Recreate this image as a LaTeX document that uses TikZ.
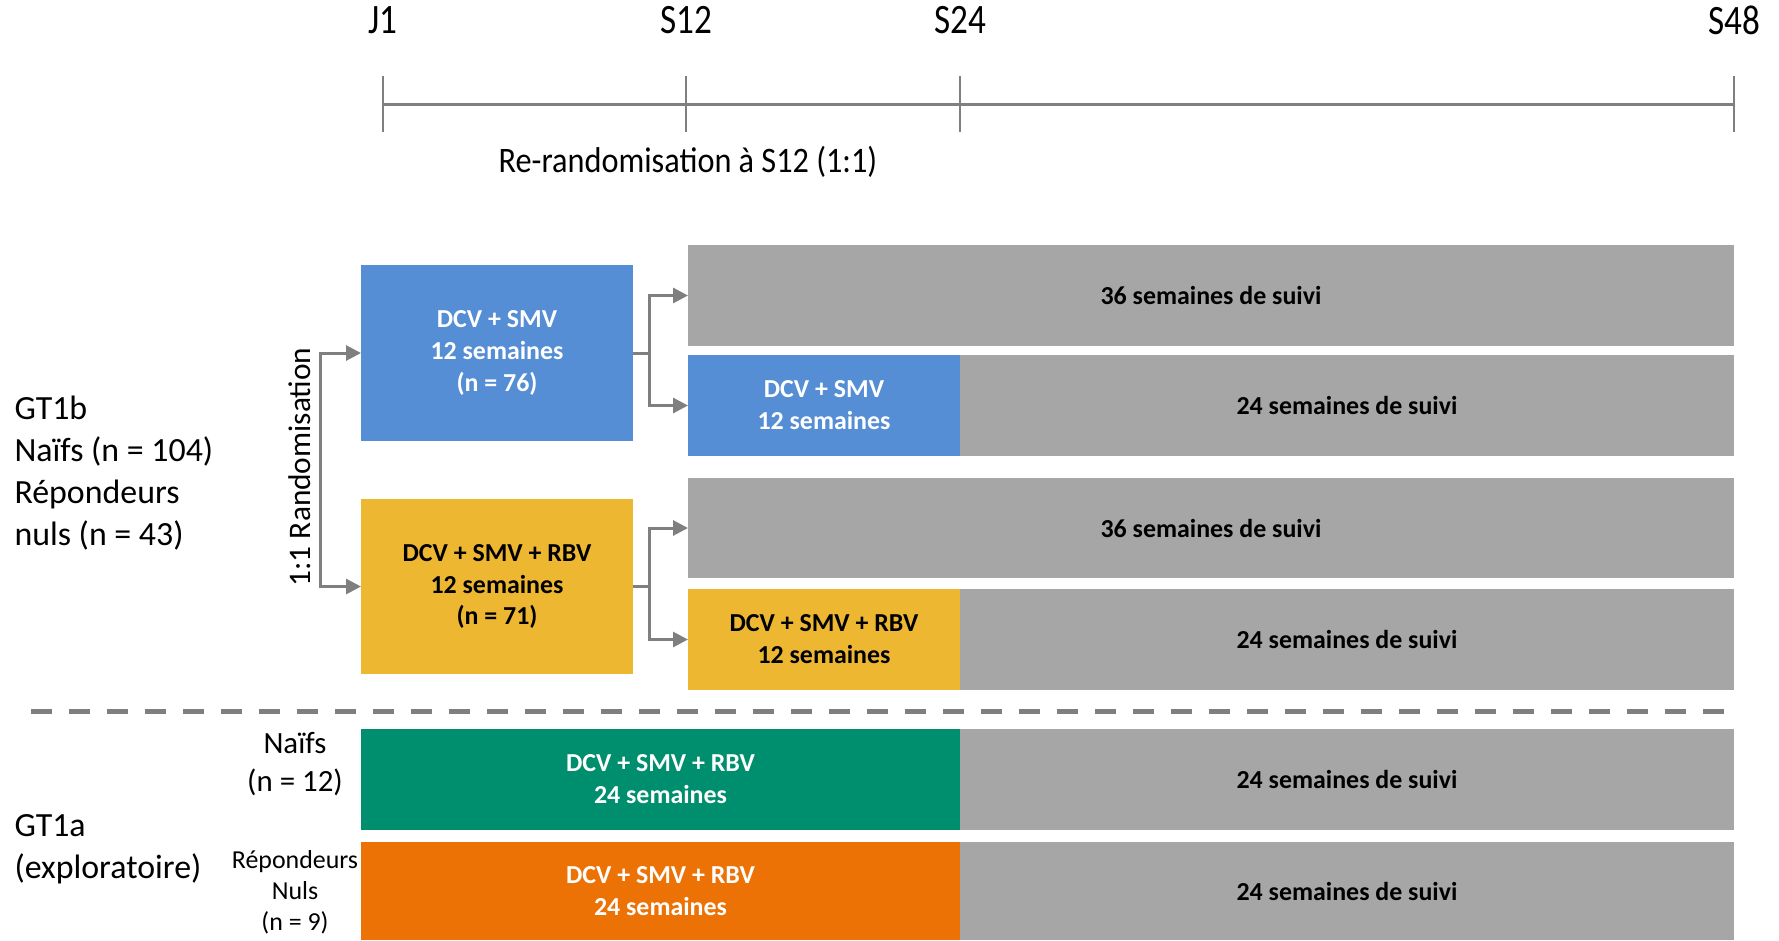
\documentclass[tikz,border=0pt]{standalone}
\usepackage{fontspec}
\setmainfont{Carlito}
\newfontfamily\condfont[FakeStretch=0.84]{Carlito}
\newfontfamily\semicondfont[FakeStretch=0.9]{Carlito}
\usetikzlibrary{positioning,arrows.meta}

\definecolor{dcvblue}{HTML}{558ED5}
\definecolor{rbvyellow}{HTML}{EDB732}
\definecolor{naifgreen}{HTML}{008F6E}
\definecolor{nulorange}{HTML}{EC7206}
\definecolor{suivigray}{HTML}{A6A6A6}
\definecolor{linegray}{HTML}{7F7F7F}

\tikzset{
  box/.style={anchor=north west, inner sep=0pt, outer sep=0pt, align=center, text=white,
    font=\bfseries\fontsize{26}{32}\selectfont},
  suivi/.style={box, fill=suivigray, text=black},
  arr/.style={draw=linegray, line width=3bp, -{Triangle[length=15bp,width=15bp]}},
  toplabel/.style={font=\condfont\fontsize{42}{48}\selectfont},
  grouplabel/.style={anchor=west, align=left, font=\fontsize{34}{42}\selectfont},
  sublabel/.style={align=center, font=\fontsize{31}{38}\selectfont},
}

\begin{document}
\begin{tikzpicture}[x=1bp, y=-1bp]
\useasboundingbox (0,0) rectangle (1779,940);

% timeline
\foreach \n/\x in {J1/383, S12/686, S24/960, S48/1734} {
  \coordinate (t\n) at (\x,104);
  \draw[linegray, line width=2bp] (\x,76) -- (\x,132);
  \node[toplabel] (l\n) at (\x,20) {\n};
}
\draw[linegray, line width=3bp] (tJ1) -- (tS48);
\node[font=\semicondfont\fontsize{36}{42}\selectfont] (rerand) at (688,162) {Re-randomisation à S12 (1:1)};

% GT1b
\node[grouplabel] (gt1b) at (11,473) {GT1b\\Naïfs (n = 104)\\Répondeurs\\nuls (n = 43)};
\node[rotate=90, font=\fontsize{31.5}{38}\selectfont] (rando) at (300,467) {1:1 Randomisation};

\node[box, fill=dcvblue, minimum width=272bp, minimum height=176bp] (dcv) at (361,265) {DCV + SMV\\12 semaines\\(n = 76)};
\node[box, fill=rbvyellow, text=black, minimum width=272bp, minimum height=175bp] (rbv) at (361,499) {DCV + SMV + RBV\\12 semaines\\(n = 71)};

\node[suivi, minimum width=1046bp, minimum height=101bp] (suivi1) at (688,245) {36 semaines de suivi};
\node[box, fill=dcvblue, minimum width=272bp, minimum height=101bp] (dcv2) at (688,355) {DCV + SMV\\12 semaines};
\node[suivi, right=0pt of dcv2, minimum width=774bp, minimum height=101bp] (suivi2) {24 semaines de suivi};

\node[suivi, minimum width=1046bp, minimum height=100bp] (suivi3) at (688,478) {36 semaines de suivi};
\node[box, fill=rbvyellow, text=black, minimum width=272bp, minimum height=101bp] (rbv2) at (688,589) {DCV + SMV + RBV\\12 semaines};
\node[suivi, right=0pt of rbv2, minimum width=774bp, minimum height=101bp] (suivi4) {24 semaines de suivi};

\coordinate (split) at (320,470);
\draw[arr] (split) |- (dcv.west);
\draw[arr] (split) |- (rbv.west);

\coordinate (f1) at ([xshift=16bp]dcv.east);
\draw[draw=linegray, line width=3bp] (dcv.east) -- (f1);
\draw[arr] (f1) |- (suivi1.west);
\draw[arr] (f1) |- (dcv2.west);

\coordinate (f2) at ([xshift=16bp]rbv.east);
\draw[draw=linegray, line width=3bp] (rbv.east) -- (f2);
\draw[arr] (f2) |- (suivi3.west);
\draw[arr] (f2) |- (rbv2.west);

% separator
\draw[linegray, line width=5bp, dash pattern=on 21bp off 17bp] (31,711) -- (1734,711);

% GT1a
\node[grouplabel] (gt1a) at (11,849) {GT1a\\(exploratoire)};
\node[sublabel] (naif) at (295,764) {Naïfs\\(n = 12)};
\node[sublabel, font=\fontsize{26}{31}\selectfont] (nul) at (295,892) {Répondeurs\\Nuls\\(n = 9)};

\node[box, fill=naifgreen, minimum width=599bp, minimum height=101bp] (green) at (361,729) {DCV + SMV + RBV\\24 semaines};
\node[suivi, right=0pt of green, minimum width=774bp, minimum height=101bp] (suivi5) {24 semaines de suivi};
\node[box, fill=nulorange, minimum width=599bp, minimum height=98bp] (orange) at (361,842) {DCV + SMV + RBV\\24 semaines};
\node[suivi, right=0pt of orange, minimum width=774bp, minimum height=98bp] (suivi6) {24 semaines de suivi};
\end{tikzpicture}
\end{document}
